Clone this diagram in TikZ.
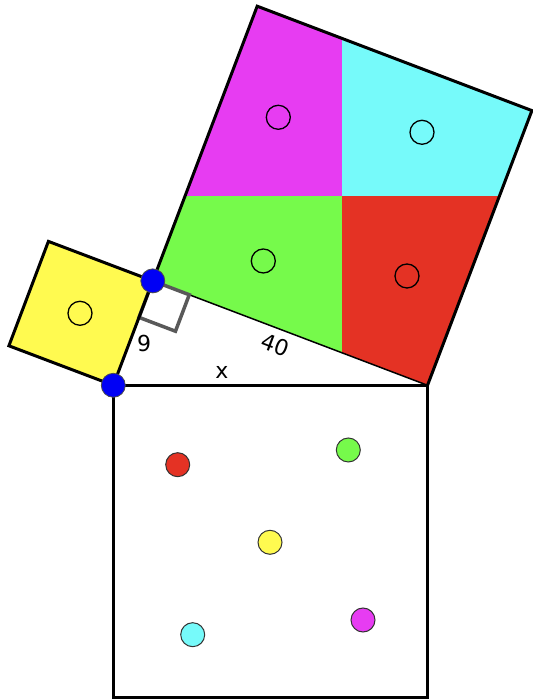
\documentclass[tikz,border=0pt]{standalone}
\usepackage{fontspec}
\setmainfont{DejaVu Sans}
\usetikzlibrary{calc}
\usetikzlibrary{positioning}
\definecolor{piecemagenta}{RGB}{231,60,242}
\definecolor{piececyan}{RGB}{118,250,250}
\definecolor{piecegreen}{RGB}{118,250,75}
\definecolor{piecered}{RGB}{228,50,36}
\definecolor{pieceyellow}{RGB}{255,250,80}
\definecolor{vertexblue}{RGB}{0,0,245}
\tikzstyle{marker}=[circle,draw=black,line width=1.3pt,minimum size=24pt,inner sep=0pt]
\tikzstyle{token}=[circle,draw=black!80,line width=1pt,minimum size=24pt,inner sep=0pt]
\tikzstyle{vertex}=[circle,fill=vertexblue,draw=black!70,line width=0.8pt,minimum size=24pt,inner sep=0pt]
\tikzstyle{side}=[draw,line width=3pt,line join=miter]
\tikzstyle{thinside}=[draw,line width=1.5pt]
\tikzstyle{rightangle}=[draw=black!65,line width=3.5pt]
\tikzstyle{length}=[font=\fontsize{22}{26}\selectfont]

\begin{document}
\begin{tikzpicture}[x=1pt,y=1pt]
    \useasboundingbox (0,0) rectangle (532,700);
    % Corners of the right triangle
    \coordinate (A) at (113.3,314.7);
    \coordinate (B) at (427.5,314.7);
    \coordinate (C) at (152.8,419.1);
    % Outer corners of the three squares
    \coordinate (Y1) at ($(A)!1!90:(C)$);
    \coordinate (Y2) at ($(C)!1!-90:(A)$);
    \coordinate (G1) at ($(C)!1!90:(B)$);
    \coordinate (G2) at ($(B)!1!-90:(C)$);
    \coordinate (O) at ($(C)!0.5!(G2)$);
    \coordinate (H) at ($(B)+(0,-312)$);

    % Four pieces of the square on the long leg
    \begin{scope}
        \clip (C) -- (B) -- (G2) -- (G1) -- cycle;
        \fill[piecemagenta] (O) rectangle (0,700);
        \fill[piececyan] (O) rectangle (532,700);
        \fill[piecegreen] (O) rectangle (0,300);
        \fill[piecered] (O) rectangle (532,300);
    \end{scope}
    \fill[pieceyellow] (A) -- (C) -- (Y2) -- (Y1) -- cycle;

    % Right angle mark
    \path[thinside] (C) -- (B);
    \coordinate (P) at ($(C)!39pt!(B)$);
    \coordinate (R) at ($(C)!39pt!(A)$);
    \coordinate (Q) at ($(P)+(R)-(C)$);
    \path[rightangle] (C) -- (P) -- (Q) -- (R) -- cycle;

    % Then the outlines
    \path[side] (C) -- (G1) -- (G2) -- (B);
    \path[side] (A) -- (C) -- (Y2) -- (Y1) -- cycle;
    \path[side] (A) rectangle (H);

    % Side lengths
    \node[length] (nine) at (144,357) {9};
    \node[length,rotate=-20.8] (forty) at (275,355) {40};
    \node[length] (hyp) at (222,328) {x};

    % Circles on the pieces and their places in the lower square
    \foreach \pos/\name in {{(278.3,582.7)/mm}, {(422,567.7)/mc}, {(263.3,439)/mg}, {(407,424)/mr}, {(80,386.7)/my}}
        \node[marker] (\name) at \pos {};

    \foreach \pos/\name/\col in {{(177.7,235.3)/tr/piecered}, {(348.3,250)/tg/piecegreen}, {(270,157.7)/ty/pieceyellow}, {(192.7,65.3)/tc/piececyan}, {(363,80)/tm/piecemagenta}}
        \node[token, fill=\col] (\name) at \pos {};

    \foreach \name/\at in {vA/A, vC/C}
        \node[vertex] (\name) at (\at) {};
\end{tikzpicture}
\end{document}
